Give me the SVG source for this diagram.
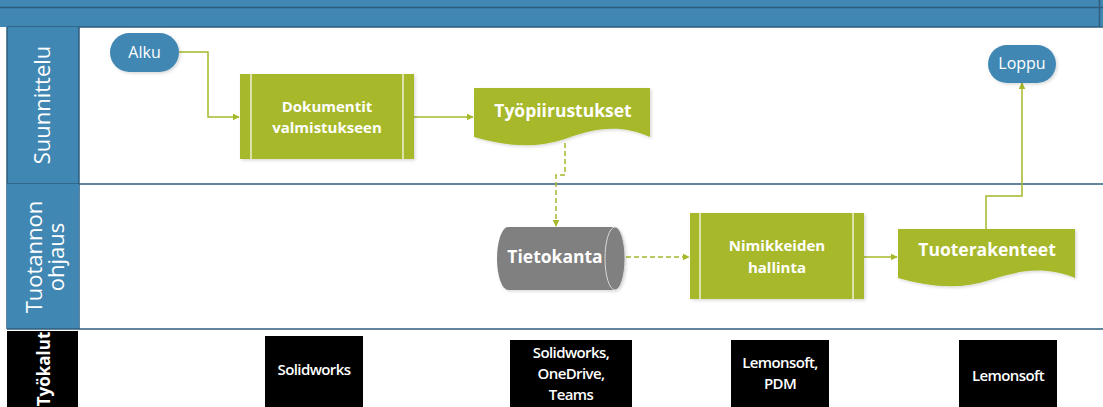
<svg xmlns="http://www.w3.org/2000/svg" width="1103" height="407" viewBox="0 0 1103 407">
  <style>
    .band { fill: #4187B3; }
    .rule { stroke: #2E5D7C; stroke-width: 1.5; fill: none; }
    .lane-title { font-family: "Open Sans", "Noto Sans", sans-serif; font-size: 22px; fill: #ffffff; }
    .step { fill: #A7B82A; }
    .bar { stroke: #ffffff; stroke-width: 1.2; fill: none; }
    .step-text { font-family: "Open Sans", "Noto Sans", sans-serif; font-weight: 700; font-size: 15px; fill: #ffffff; text-anchor: middle; }
    .doc-text { font-family: "Open Sans", "Noto Sans", sans-serif; font-weight: 700; font-size: 17.5px; fill: #ffffff; text-anchor: middle; }
    .term { fill: #4187B3; }
    .term-text { font-family: "Open Sans", "Noto Sans", sans-serif; font-size: 16px; fill: #ffffff; text-anchor: middle; }
    .tool { fill: #000000; }
    .tool-text { font-family: "Open Sans", "Noto Sans", sans-serif; font-weight: 600; font-size: 15px; fill: #ffffff; text-anchor: middle; letter-spacing: -0.6px; }
    .flow { stroke: #A7B82A; stroke-width: 1.5; fill: none; }
    .dashed { stroke-dasharray: 5 3; }
  </style>
  <defs>
    <marker id="arrow" viewBox="0 0 10 10" refX="9" refY="5" markerWidth="7" markerHeight="7" markerUnits="userSpaceOnUse" orient="auto">
      <path d="M0,0 L10,5 L0,10 Z" fill="#A7B82A"/>
    </marker>
    <filter id="shadow" x="-10%" y="-10%" width="130%" height="130%">
      <feDropShadow dx="1.5" dy="1.5" stdDeviation="1.5" flood-color="#000000" flood-opacity="0.15"/>
    </filter>
  </defs>

  <rect width="1103" height="407" fill="#ffffff"/>

  <!-- pool header -->
  <g id="pool-header">
    <rect class="band" x="0" y="0" width="1103" height="27"/>
    <line class="rule" x1="0" y1="7.5" x2="1103" y2="7.5"/>
    <line class="rule" x1="1099.5" y1="0" x2="1099.5" y2="27"/>
    <line class="rule" x1="7" y1="27" x2="1103" y2="27"/>
  </g>

  <!-- swimlanes -->
  <g id="lane-suunnittelu">
    <rect class="band" x="7" y="27" width="72" height="157"/>
    <line class="rule" x1="7" y1="27" x2="7" y2="329"/>
    <line class="rule" x1="79" y1="27" x2="79" y2="329"/>
    <line class="rule" x1="7" y1="184" x2="1103" y2="184"/>
    <text class="lane-title" transform="translate(50,105) rotate(-90)" text-anchor="middle">Suunnittelu</text>
  </g>
  <g id="lane-tuotannon-ohjaus">
    <rect class="band" x="7" y="184" width="72" height="145"/>
    <line class="rule" x1="7" y1="329" x2="1103" y2="329"/>
    <text class="lane-title" transform="translate(42,257) rotate(-90)" text-anchor="middle">Tuotannon</text>
    <text class="lane-title" transform="translate(64,257) rotate(-90)" text-anchor="middle">ohjaus</text>
  </g>
  <g id="lane-tyokalut">
    <rect x="7" y="331" width="71" height="76" fill="#000000"/>
    <text transform="translate(50,369) rotate(-90)" text-anchor="middle" font-family="'Open Sans', 'Noto Sans', sans-serif" font-weight="700" font-size="17" fill="#ffffff">Työkalut</text>
  </g>

  <!-- connectors -->
  <g id="connectors">
    <path class="flow" d="M179,52 H208 V117 H239" marker-end="url(#arrow)"/>
    <path class="flow" d="M414,117 H473" marker-end="url(#arrow)"/>
    <path class="flow dashed" d="M565,143 V175 H556 V226" marker-end="url(#arrow)"/>
    <path class="flow dashed" d="M626,257 H689" marker-end="url(#arrow)"/>
    <path class="flow" d="M864,257 H897" marker-end="url(#arrow)"/>
    <path class="flow" d="M986,229 V196 H1022 V83" marker-end="url(#arrow)"/>
  </g>

  <!-- nodes -->
  <g id="node-alku">
    <rect class="term" x="110" y="33" width="69" height="39" rx="19.5" filter="url(#shadow)"/>
    <text class="term-text" x="144.5" y="58">Alku</text>
  </g>

  <g id="node-dokumentit">
    <rect class="step" x="240" y="74" width="174" height="85" filter="url(#shadow)"/>
    <line class="bar" x1="251" y1="74" x2="251" y2="159"/>
    <line class="bar" x1="403" y1="74" x2="403" y2="159"/>
    <text class="step-text" x="327" y="112">Dokumentit</text>
    <text class="step-text" x="327" y="133">valmistukseen</text>
  </g>

  <g id="node-tyopiirustukset">
    <path class="step" d="M474,88 H650 V137 C620,124 595,128 565,139 C535,149 505,146 474,137 Z" filter="url(#shadow)"/>
    <text class="doc-text" x="563" y="117">Työpiirustukset</text>
  </g>

  <g id="node-tietokanta">
    <path d="M508,227 H615 A10,31.5 0 0 1 615,290 H508 A11,31.5 0 0 1 508,227 Z" fill="#808080" filter="url(#shadow)"/>
    <ellipse cx="615" cy="258.5" rx="10" ry="31.5" fill="none" stroke="#d9d9d9" stroke-width="1"/>
    <text class="doc-text" x="555" y="263">Tietokanta</text>
  </g>

  <g id="node-nimikkeiden">
    <rect class="step" x="690" y="213" width="174" height="86" filter="url(#shadow)"/>
    <line class="bar" x1="700" y1="213" x2="700" y2="299"/>
    <line class="bar" x1="853" y1="213" x2="853" y2="299"/>
    <text class="step-text" x="777" y="251">Nimikkeiden</text>
    <text class="step-text" x="777" y="273">hallinta</text>
  </g>

  <g id="node-tuoterakenteet">
    <path class="step" d="M898,229 H1075 V278 C1045,266 1020,270 990,280 C960,290 930,287 898,278 Z" filter="url(#shadow)"/>
    <text class="doc-text" x="987" y="256">Tuoterakenteet</text>
  </g>

  <g id="node-loppu">
    <rect class="term" x="988" y="45" width="68" height="38" rx="19" filter="url(#shadow)"/>
    <text class="term-text" x="1022" y="69">Loppu</text>
  </g>

  <!-- tools -->
  <g id="tool-solidworks">
    <rect class="tool" x="265" y="336" width="98" height="71"/>
    <text class="tool-text" x="314" y="375">Solidworks</text>
  </g>
  <g id="tool-solidworks-onedrive-teams">
    <rect class="tool" x="510" y="340" width="122" height="67"/>
    <text class="tool-text" x="571" y="358">Solidworks,</text>
    <text class="tool-text" x="571" y="379">OneDrive,</text>
    <text class="tool-text" x="571" y="400">Teams</text>
  </g>
  <g id="tool-lemonsoft-pdm">
    <rect class="tool" x="731" y="340" width="98" height="67"/>
    <text class="tool-text" x="780" y="368">Lemonsoft,</text>
    <text class="tool-text" x="780" y="389">PDM</text>
  </g>
  <g id="tool-lemonsoft">
    <rect class="tool" x="959" y="340" width="98" height="67"/>
    <text class="tool-text" x="1008" y="381">Lemonsoft</text>
  </g>
</svg>
